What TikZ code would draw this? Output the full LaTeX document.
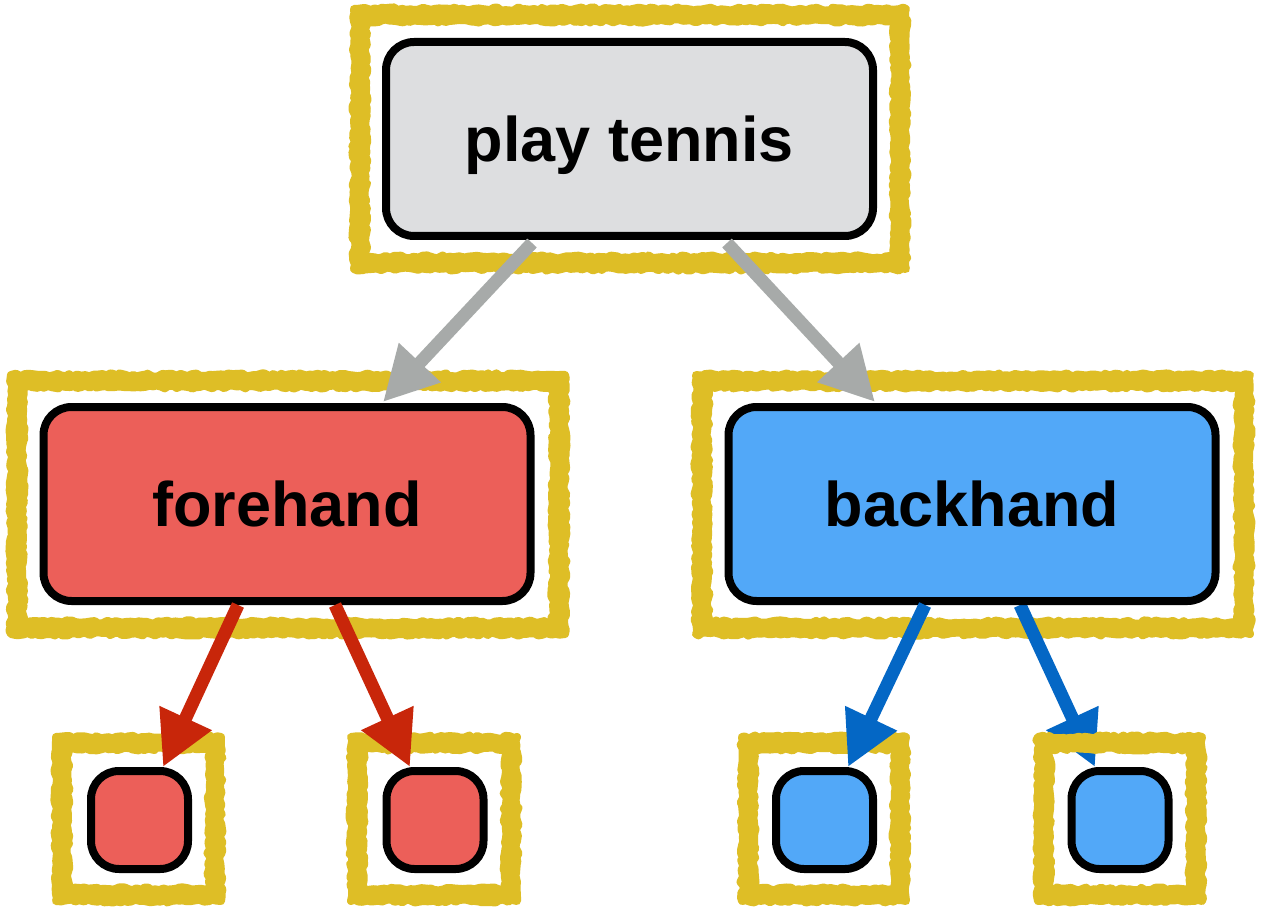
\documentclass[tikz,border=0pt]{standalone}
\usepackage{fontspec}
\setmainfont{Liberation Sans}
\usetikzlibrary{arrows.meta,decorations.pathmorphing,calc}
\definecolor{frameyellow}{RGB}{222,190,38}
\definecolor{topfill}{RGB}{221,222,224}
\definecolor{redfill}{RGB}{236,95,89}
\definecolor{bluefill}{RGB}{82,168,248}
\definecolor{grayarrow}{RGB}{167,170,169}
\definecolor{redarrow}{RGB}{200,38,10}
\definecolor{bluearrow}{RGB}{4,103,197}
\newcommand\skframe[4]{%
  \draw[sketchA] ({#1-6},{#2-6}) rectangle ({#3+6},{#4+6});
  \draw[sketchA] ({#1+6},{#2+6}) rectangle ({#3-6},{#4-6});
  \draw[sketchB] (#1,#2) rectangle (#3,#4);
}
\begin{document}
\begin{tikzpicture}[x=1pt,y=-1pt,
  sketchA/.style={draw=frameyellow, line width=8pt, line join=round, line cap=round,
    decorate, decoration={random steps, segment length=4pt, amplitude=1.6pt}},
  sketchB/.style={draw=frameyellow, line width=10pt, line join=round, line cap=round,
    decorate, decoration={random steps, segment length=3pt, amplitude=1.4pt}},
  box/.style={draw=black, line width=8pt, rounded corners=28pt, inner sep=0pt,
    font=\fontsize{63}{63}\selectfont\bfseries, text=black, text depth=0pt},
  bigbox/.style={box, minimum width=487pt, minimum height=194pt},
  smallbox/.style={box, minimum width=97pt, minimum height=98pt},
  conn/.style={line width=13pt, -{Triangle[length=54pt,width=54pt]}},
]
\pgfmathsetseed{7}
\useasboundingbox (0,0) rectangle (1261,912);
\fill[white] (0,0) rectangle (1261,912);

% sketchy frames
\skframe{360}{15}{900}{263}
\skframe{17}{381}{559}{628}
\skframe{702}{381}{1244}{628}
\skframe{62}{743}{215}{895}
\skframe{357}{743}{511}{895}
\skframe{748}{743}{900}{895}

% coordinates of connector ends
\coordinate (g1s) at (532,243);
\coordinate (g1e) at (383,402);
\coordinate (g2s) at (727,243);
\coordinate (g2e) at (875,402);
\coordinate (r1s) at (238,605);
\coordinate (r1e) at (163,767);
\coordinate (r2s) at (335,605);
\coordinate (r2e) at (410,767);
\coordinate (b1s) at (925,605);
\coordinate (b1e) at (848,767);
\coordinate (b2s) at (1020,605);
\coordinate (b2e) at (1095,767);

\draw[conn, draw=bluearrow, fill=bluearrow] (b2s) -- (b2e);
\skframe{1044}{743}{1196}{895}

% boxes
\node[bigbox, fill=topfill] (top) at (629.5,139) {play tennis};
\node[bigbox, fill=redfill] (fh) at (287,504) {forehand};
\node[bigbox, fill=bluefill] (bh) at (972,504) {backhand};
\node[smallbox, fill=redfill] (s1) at (139.5,820) {};
\node[smallbox, fill=redfill] (s2) at (435,820) {};
\node[smallbox, fill=bluefill] (s3) at (824.5,820) {};
\node[smallbox, fill=bluefill] (s4) at (1120,820) {};

% connectors
\draw[conn, draw=grayarrow, fill=grayarrow] (g1s) -- (g1e);
\draw[conn, draw=grayarrow, fill=grayarrow] (g2s) -- (g2e);
\draw[conn, draw=redarrow, fill=redarrow] (r1s) -- (r1e);
\draw[conn, draw=redarrow, fill=redarrow] (r2s) -- (r2e);
\draw[conn, draw=bluearrow, fill=bluearrow] (b1s) -- (b1e);
\end{tikzpicture}
\end{document}
